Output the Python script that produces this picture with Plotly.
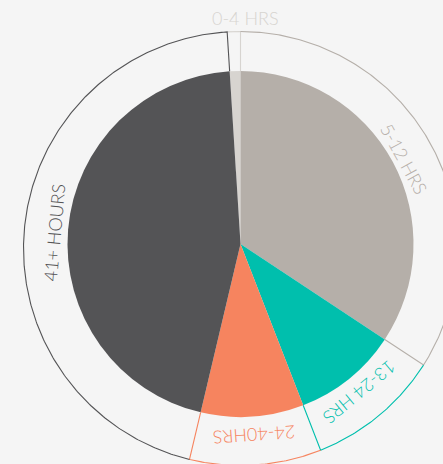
import math
import plotly.graph_objects as go

# ---------------- data ----------------
categories = ["0-4 HRS", "5-12 HRS", "13-24 HRS", "24-40HRS", "41+ HOURS"]
values = [1.0, 34.3, 9.8, 9.6, 45.3]
colors = ["#d7d4d0", "#b5afa9", "#00bfad", "#f6845f", "#545456"]

# ---------------- layout constants ----------------
W, H = 443, 464
BG = "#f5f5f5"
PIE_C = (240.5, 244.0)
PIE_R = 173.0
RING_C = (240.5, 248.5)
RING_R = 217.0
LABEL_R = 187.0
OUTSIDE_LABEL = {"r": 230.5, "angle": 1.3}   # position of the tiny-slice label
FONT = "Lato, 'Open Sans', sans-serif"

total = sum(values)
rotation = -360.0 * values[0] / total
starts, ends = [], []
acc = rotation
for v in values:
    starts.append(acc)
    acc += 360.0 * v / total
    ends.append(acc)


def ray_to_ring(theta):
    t = math.radians(theta)
    dx, dy = math.sin(t), -math.cos(t)
    ox, oy = PIE_C[0] - RING_C[0], PIE_C[1] - RING_C[1]
    b = ox * dx + oy * dy
    c = ox * ox + oy * oy - RING_R ** 2
    s = -b + math.sqrt(b * b - c)
    return PIE_C[0] + s * dx, PIE_C[1] + s * dy


def ring_angle(x, y):
    return math.degrees(math.atan2(x - RING_C[0], -(y - RING_C[1])))


fig = go.Figure()

fig.add_trace(go.Pie(
    labels=categories, values=values, sort=False, direction="clockwise",
    rotation=rotation,
    marker=dict(colors=colors, line=dict(width=0)),
    textinfo="none", hoverinfo="label+percent", showlegend=False,
    domain=dict(
        x=[(PIE_C[0] - PIE_R) / W, (PIE_C[0] + PIE_R) / W],
        y=[1 - (PIE_C[1] + PIE_R) / H, 1 - (PIE_C[1] - PIE_R) / H],
    ),
))

annotations = []
for i, cat in enumerate(categories):
    x0, y0 = ray_to_ring(starts[i])
    x1, y1 = ray_to_ring(ends[i])
    a0 = ring_angle(x0, y0)
    a1 = ring_angle(x1, y1)
    while a1 <= a0:
        a1 += 360
    n = max(8, int((a1 - a0) * 2))
    xs, ys = [], []
    for k in range(n + 1):
        a = math.radians(a0 + (a1 - a0) * k / n)
        xs.append(RING_C[0] + RING_R * math.sin(a))
        ys.append(RING_C[1] - RING_R * math.cos(a))
    te = math.radians(ends[i])
    xs.append(PIE_C[0] + PIE_R * math.sin(te))
    ys.append(PIE_C[1] - PIE_R * math.cos(te))
    fig.add_trace(go.Scatter(
        x=xs, y=ys, mode="lines", line=dict(color=colors[i], width=1.1),
        hoverinfo="skip", showlegend=False,
    ))

    if i == 0:
        r, ang, ta = OUTSIDE_LABEL["r"], OUTSIDE_LABEL["angle"], 0
    else:
        r, ang = LABEL_R, (a0 + a1) / 2
        ta = ang
        while ta > 180:
            ta -= 360
    ar = math.radians(ang)
    annotations.append(dict(
        x=RING_C[0] + r * math.sin(ar), y=RING_C[1] - r * math.cos(ar),
        xref="x", yref="y", text=cat, showarrow=False, textangle=ta,
        xanchor="center", yanchor="middle",
        font=dict(family=FONT, size=18, color=colors[i], weight=300),
    ))

fig.update_layout(
    width=W, height=H, margin=dict(l=0, r=0, t=0, b=0),
    paper_bgcolor=BG, plot_bgcolor=BG,
    xaxis=dict(range=[0, W], visible=False, fixedrange=True),
    yaxis=dict(range=[H, 0], visible=False, fixedrange=True),
    annotations=annotations,
    showlegend=False,
)

fig.write_html(
    "out.html",
    config={"displayModeBar": False},
    post_script="document.body.style.margin='0';document.body.style.overflow='hidden';document.body.style.background='" + BG + "';",
)
